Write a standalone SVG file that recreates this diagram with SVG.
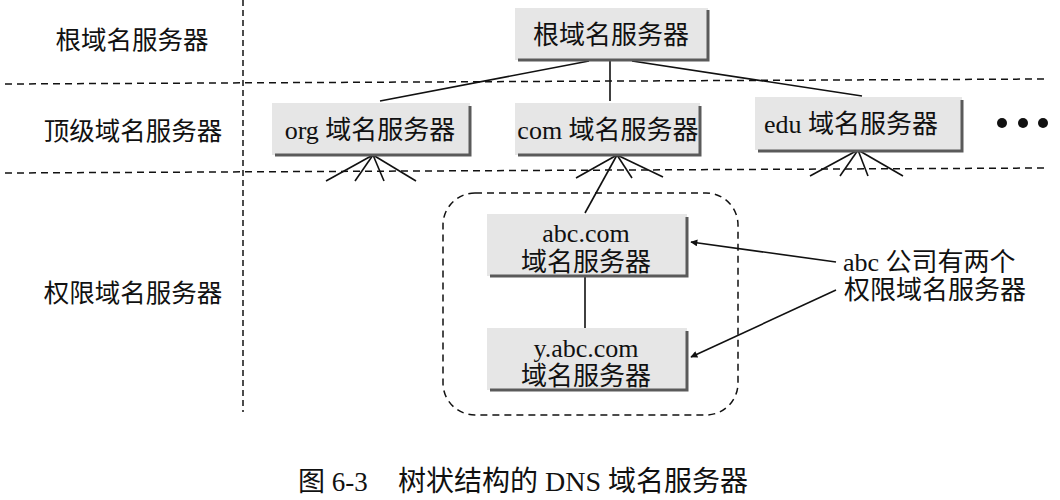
<svg xmlns="http://www.w3.org/2000/svg" width="1060" height="500" viewBox="0 0 1060 500">
<style>
.bg{fill:#fff}
.box{fill:#e6e6e6}
.sh{fill:none;stroke:#5a5a5a;stroke-width:3}
.ln{stroke:#111;stroke-width:1.6;fill:none}
.dash{stroke:#111;stroke-width:1.5;stroke-dasharray:7 5;fill:none}
.vdash{stroke:#111;stroke-width:1.5;stroke-dasharray:6 4;fill:none}
.t{font-family:"Liberation Serif","Noto Sans CJK SC",serif;font-size:26px;fill:#111;text-anchor:middle}
.lab{font-family:"Noto Sans CJK SC","Liberation Sans",sans-serif;font-size:25.5px;fill:#111;text-anchor:middle}
.dot{fill:#111}
</style>
<defs>
<marker id="arr" viewBox="0 0 10 10" refX="9" refY="5" markerWidth="9" markerHeight="7" orient="auto" markerUnits="userSpaceOnUse">
<path d="M0,0 L10,5 L0,10 z" fill="#111"/>
</marker>
</defs>
<rect class="bg" width="1060" height="500"/>
<g id="grid">
<line class="vdash" x1="243" y1="0" x2="243" y2="412"/>
<line class="dash" x1="5" y1="84" x2="1045" y2="79"/>
<line class="dash" x1="5" y1="173" x2="1045" y2="168"/>
</g>
<g id="labels">
<text class="lab" x="132" y="49">根域名服务器</text>
<text class="lab" x="133" y="140">顶级域名服务器</text>
<text class="lab" x="133" y="302">权限域名服务器</text>
</g>
<g id="connectors">
<line class="ln" x1="589" y1="61" x2="380" y2="101"/>
<line class="ln" x1="610" y1="61" x2="610" y2="101"/>
<line class="ln" x1="632" y1="61" x2="862" y2="96"/>
<line class="ln" x1="373" y1="155" x2="326" y2="181"/>
<line class="ln" x1="373" y1="155" x2="355" y2="181"/>
<line class="ln" x1="373" y1="155" x2="384" y2="181"/>
<line class="ln" x1="373" y1="155" x2="416" y2="181"/>
<line class="ln" x1="617" y1="155" x2="576" y2="178"/>
<line class="ln" x1="617" y1="155" x2="585" y2="213"/>
<line class="ln" x1="617" y1="155" x2="632" y2="178"/>
<line class="ln" x1="617" y1="155" x2="663" y2="177"/>
<line class="ln" x1="858" y1="150" x2="810" y2="176"/>
<line class="ln" x1="858" y1="150" x2="840" y2="176"/>
<line class="ln" x1="858" y1="150" x2="868" y2="176"/>
<line class="ln" x1="858" y1="150" x2="903" y2="176"/>
<line class="ln" x1="585" y1="277" x2="585" y2="328"/>
<line class="ln" x1="836" y1="262" x2="691" y2="242" marker-end="url(#arr)"/>
<line class="ln" x1="836" y1="290" x2="691" y2="357" marker-end="url(#arr)"/>
</g>
<g id="root">
<rect class="box" x="515" y="8" width="193" height="52"/>
<polyline class="sh" points="708,10 708,60 518,60"/>
<text class="t" x="611" y="44">根域名服务器</text>
</g>
<g id="org">
<rect class="box" x="272" y="103" width="198" height="52"/>
<polyline class="sh" points="470,106 470,155 275,155"/>
<text class="t" x="370" y="139">org 域名服务器</text>
</g>
<g id="com">
<rect class="box" x="515" y="103" width="185" height="52"/>
<polyline class="sh" points="700,106 700,155 518,155"/>
<text class="t" x="608" y="139">com 域名服务器</text>
</g>
<g id="edu">
<rect class="box" x="755" y="97" width="207" height="53"/>
<polyline class="sh" points="962,100 962,151 758,151"/>
<text class="t" x="851" y="133">edu 域名服务器</text>
</g>
<g id="more">
<circle class="dot" cx="1002" cy="123" r="5"/>
<circle class="dot" cx="1023" cy="123" r="5"/>
<circle class="dot" cx="1043" cy="123" r="5"/>
</g>
<g id="zone">
<rect class="dash" x="443" y="193" width="295" height="222" rx="32" ry="32"/>
</g>
<g id="abc">
<rect class="box" x="487" y="214" width="200" height="62"/>
<polyline class="sh" points="687,217 687,276 490,276"/>
<text class="t" x="586" y="242">abc.com</text>
<text class="t" x="586" y="271">域名服务器</text>
</g>
<g id="yabc">
<rect class="box" x="487" y="328" width="200" height="62"/>
<polyline class="sh" points="687,331 687,390 490,390"/>
<text class="t" x="586" y="357">y.abc.com</text>
<text class="t" x="586" y="385">域名服务器</text>
</g>
<g id="note">
<text class="t" x="843" y="271" style="text-anchor:start">abc 公司有两个</text>
<text class="t" x="844" y="299" style="text-anchor:start">权限域名服务器</text>
</g>
<g id="caption">
<text class="t" x="298" y="491" style="text-anchor:start;font-size:27px">图 6-3<tspan x="398" style="font-size:28px">树状结构的 DNS 域名服务器</tspan></text>
</g>
</svg>
